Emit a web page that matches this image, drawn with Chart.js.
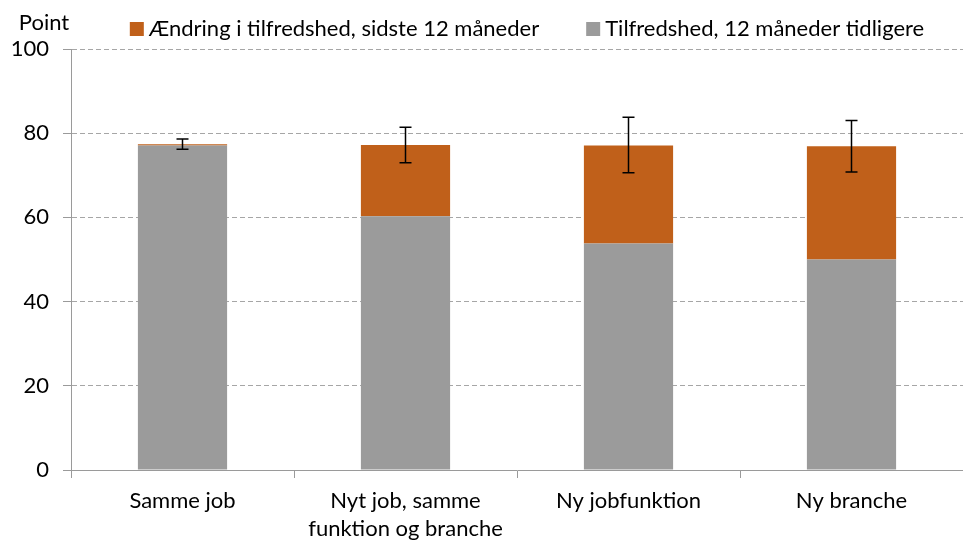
<!DOCTYPE html>
<html>
<head>
<meta charset="utf-8">
<script src="https://cdn.jsdelivr.net/npm/chart.js@4"></script>
<style>
  html, body { margin: 0; padding: 0; background: #fff; }
  #wrap { width: 963px; height: 540px; }
</style>
</head>
<body>
<div id="wrap"><canvas id="barChart"></canvas></div>
<script>
// data
const categories = ['Samme job', ['Nyt job, samme', 'funktion og branche'], 'Ny jobfunktion', 'Ny branche'];
const satisfactionBefore = [77.1, 60.3, 53.8, 50.0];
const satisfactionChange = [0.3, 16.9, 23.3, 26.9];
const errLow = [76.2, 73.0, 70.6, 70.8];
const errHigh = [78.6, 81.4, 83.8, 83.0];
const yTicks = [0, 20, 40, 60, 80, 100];
const seriesNames = ['Tilfredshed, 12 måneder tidligere', 'Ændring i tilfredshed, sidste 12 måneder'];

const FONT = 'Lato, "Open Sans", sans-serif';
const FS = 22;
const GREY = '#9b9b9b';
const ORANGE = '#c0601a';
const AXIS = '#9a9a9a';

// error bars on top of the stacked totals
const errorBars = {
  id: 'errorBars',
  afterDatasetsDraw(chart) {
    const ctx = chart.ctx;
    const y = chart.scales.y;
    const meta = chart.getDatasetMeta(1);
    ctx.save();
    ctx.strokeStyle = '#000';
    ctx.lineWidth = 1.5;
    meta.data.forEach((bar, i) => {
      const yl = y.getPixelForValue(errLow[i]);
      const yh = y.getPixelForValue(errHigh[i]);
      ctx.beginPath();
      ctx.moveTo(bar.x, yl); ctx.lineTo(bar.x, yh);
      ctx.moveTo(bar.x - 6, yl); ctx.lineTo(bar.x + 6, yl);
      ctx.moveTo(bar.x - 6, yh); ctx.lineTo(bar.x + 6, yh);
      ctx.stroke();
    });
    ctx.restore();
  }
};

// legend (orange first) and the "Point" unit label
const topLabels = {
  id: 'topLabels',
  afterDraw(chart) {
    const ctx = chart.ctx;
    ctx.save();
    ctx.font = FS + 'px ' + FONT;
    ctx.fillStyle = '#000';
    ctx.textBaseline = 'middle';
    ctx.textAlign = 'center';
    ctx.fillText('Point', 44, 23);

    const items = [
      { text: seriesNames[1], color: ORANGE },
      { text: seriesNames[0], color: GREY }
    ];
    const box = 14, gapText = 5, gapItem = 47;
    let total = 0;
    items.forEach((it, i) => {
      it.w = ctx.measureText(it.text).width;
      total += box + gapText + it.w + (i ? 0 : gapItem);
    });
    let x = 527 - total / 2;
    ctx.textAlign = 'left';
    items.forEach(it => {
      ctx.fillStyle = it.color;
      ctx.fillRect(x, 22, box, box);
      ctx.fillStyle = '#000';
      ctx.fillText(it.text, x + box + gapText, 29);
      x += box + gapText + it.w + gapItem;
    });
    ctx.restore();
  }
};

const config = {
  type: 'bar',
  data: {
    labels: categories,
    datasets: [{
      label: seriesNames[0],
      data: satisfactionBefore,
      backgroundColor: GREY,
      categoryPercentage: 0.4,
      barPercentage: 1
    }, {
      label: seriesNames[1],
      data: satisfactionChange,
      backgroundColor: ORANGE,
      categoryPercentage: 0.4,
      barPercentage: 1
    }]
  },
  options: {
    responsive: true,
    maintainAspectRatio: false,
    animation: false,
    layout: { padding: { top: 49, right: -4, left: 0, bottom: 0 } },
    plugins: {
      legend: { display: false },
      tooltip: { enabled: false }
    },
    scales: {
      x: {
        stacked: true,
        grid: { offset: true, drawOnChartArea: false, color: AXIS, tickLength: 8 },
        border: { color: AXIS, width: 1 },
        ticks: {
          color: '#000', font: { family: FONT, size: FS, lineHeight: 1.27 },
          padding: 9, maxRotation: 0, autoSkip: false
        },
        afterFit(s) { s.height = 70; }
      },
      y: {
        stacked: true,
        min: 0,
        max: 100,
        afterBuildTicks(s) { s.ticks = yTicks.map(v => ({ value: v })); },
        grid: { color: '#a6a6a6', tickLength: 8, tickColor: AXIS, tickBorderDash: [] },
        border: { color: AXIS, width: 1, dash: [5, 3] },
        ticks: { color: '#000', font: { family: FONT, size: FS }, padding: 14 },
        afterFit(s) { s.width = 71; }
      }
    }
  },
  plugins: [errorBars, topLabels]
};

const myChart = new Chart(document.getElementById('barChart'), config);
</script>
</body>
</html>
